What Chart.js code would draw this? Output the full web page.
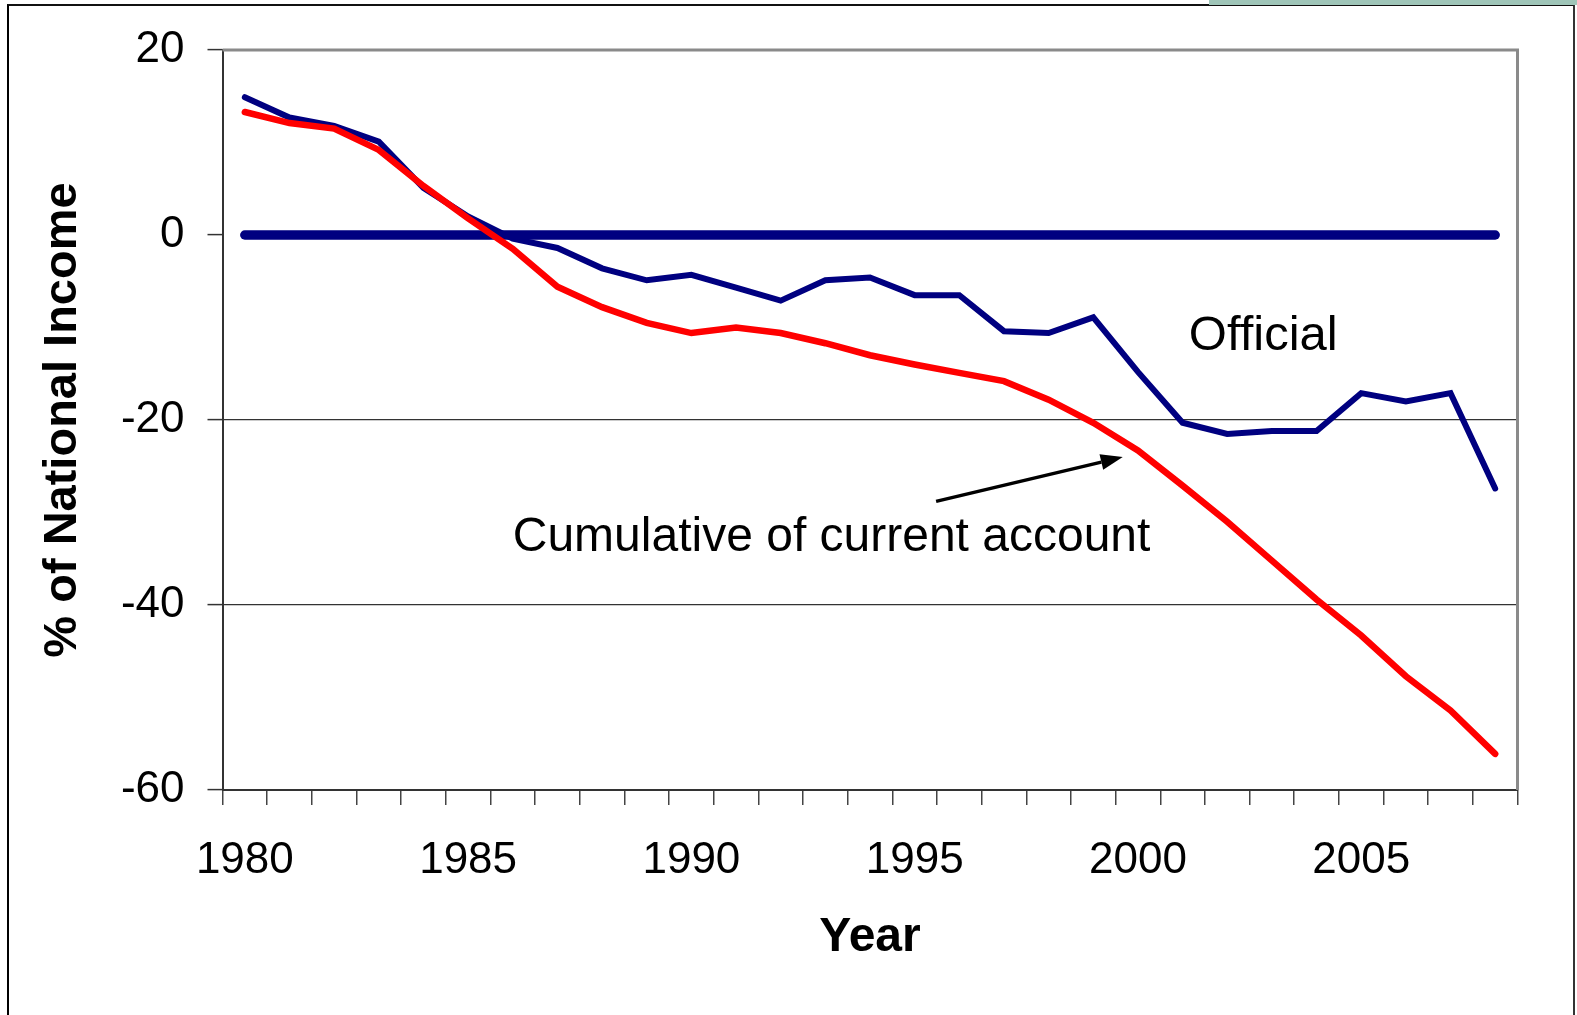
<!DOCTYPE html>
<html>
<head>
<meta charset="utf-8">
<script src="https://cdn.jsdelivr.net/npm/chart.js@4.4.1/dist/chart.umd.min.js"></script>
<style>
  html, body { margin: 0; padding: 0; background: #ffffff; }
  #wrap { position: relative; width: 1577px; height: 1015px; overflow: hidden; }
  #frame { position: absolute; left: 7px; top: 4px; width: 1564px; height: 1100px;
           border-left: 2px solid #000; border-top: 2px solid #111; border-right: 2px solid #333; }
  #greenbar { position: absolute; left: 1209px; top: 0; width: 368px; height: 5px; background: #9fc5b8; }
  canvas { position: absolute; left: 0; top: 0; }
</style>
</head>
<body>
<div id="wrap">
  <div id="frame"></div>
  <div id="greenbar"></div>
  <canvas id="c" width="1577" height="1015"></canvas>
</div>
<script>
// ---- Data ----
const years = ['1980','1981','1982','1983','1984','1985','1986','1987','1988','1989',
               '1990','1991','1992','1993','1994','1995','1996','1997','1998','1999',
               '2000','2001','2002','2003','2004','2005','2006','2007','2008'];
const official = [14.9, 12.7, 11.8, 10.1, 5.1, 2.0, -0.4, -1.4, -3.6, -4.9,
                  -4.3, -5.7, -7.1, -4.9, -4.6, -6.5, -6.5, -10.4, -10.6, -8.9,
                  -14.8, -20.3, -21.5, -21.2, -21.2, -17.1, -18.0, -17.1, -27.4];
const cumulative = [13.3, 12.1, 11.5, 9.2, 5.3, 1.8, -1.5, -5.6, -7.8, -9.5,
                    -10.6, -10.0, -10.6, -11.7, -13.0, -14.0, -14.9, -15.8, -17.8, -20.3,
                    -23.3, -27.1, -31.0, -35.2, -39.4, -43.3, -47.7, -51.4, -56.1];
const zeroLine = [0,0,0,0,0,0,0,0,0,0, 0,0,0,0,0,0,0,0,0,0, 0,0,0,0,0,0,0,0,0];
const xTickLabels = ['1980','1985','1990','1995','2000','2005'];
const yTicks = [20, 0, -20, -40, -60];

// annotation positions in data units (category index, value)
const officialLabel = { text: 'Official', x: 21.14, y: -12.4 };
const cumulativeLabel = { text: 'Cumulative of current account', x: 6.0, y: -34.2 };
const arrowFrom = { x: 15.48, y: -28.8 };
const arrowTo = { x: 19.66, y: -24.0 };

const FONT = "'Liberation Sans', Arial, Helvetica, sans-serif";

const framePlugin = {
  id: 'framePlugin',
  beforeDatasetsDraw(chart) {
    const { ctx, chartArea: a } = chart;
    ctx.save();
    ctx.strokeStyle = '#8a8a8a';
    ctx.lineWidth = 3;
    ctx.beginPath();
    ctx.moveTo(a.left, a.top);
    ctx.lineTo(a.right, a.top);
    ctx.lineTo(a.right, a.bottom);
    ctx.stroke();
    ctx.restore();
  },
  afterDatasetsDraw(chart) {
    const { ctx, scales: { x, y } } = chart;
    ctx.save();
    ctx.fillStyle = '#000';
    ctx.textBaseline = 'alphabetic';
    ctx.textAlign = 'left';
    ctx.font = '49px ' + FONT;
    ctx.fillText(officialLabel.text, x.getPixelForValue(officialLabel.x), y.getPixelForValue(officialLabel.y));
    ctx.font = '48px ' + FONT;
    ctx.fillText(cumulativeLabel.text, x.getPixelForValue(cumulativeLabel.x), y.getPixelForValue(cumulativeLabel.y));
    // arrow
    const x0 = x.getPixelForValue(arrowFrom.x), y0 = y.getPixelForValue(arrowFrom.y);
    const x1 = x.getPixelForValue(arrowTo.x), y1 = y.getPixelForValue(arrowTo.y);
    const ang = Math.atan2(y1 - y0, x1 - x0);
    const headLen = 22, headHalf = 8;
    const bx = x1 - headLen * Math.cos(ang), by = y1 - headLen * Math.sin(ang);
    ctx.strokeStyle = '#000';
    ctx.lineWidth = 3.5;
    ctx.beginPath();
    ctx.moveTo(x0, y0);
    ctx.lineTo(bx, by);
    ctx.stroke();
    ctx.beginPath();
    ctx.moveTo(x1, y1);
    ctx.lineTo(bx + headHalf * Math.sin(ang), by - headHalf * Math.cos(ang));
    ctx.lineTo(bx - headHalf * Math.sin(ang), by + headHalf * Math.cos(ang));
    ctx.closePath();
    ctx.fill();
    ctx.restore();
  }
};

new Chart(document.getElementById('c'), {
  type: 'line',
  data: {
    labels: years,
    datasets: [
      { label: 'Cumulative of current account', data: cumulative, borderColor: '#ff0000',
        borderWidth: 6.5, pointRadius: 0, tension: 0, fill: false, borderCapStyle: 'round' },
      { label: 'Official', data: official, borderColor: '#000080',
        borderWidth: 6, pointRadius: 0, tension: 0, fill: false, borderCapStyle: 'round' },
      { label: 'Zero', data: zeroLine, borderColor: '#000080',
        borderWidth: 9.5, pointRadius: 0, tension: 0, fill: false, borderCapStyle: 'round' }
    ]
  },
  plugins: [framePlugin],
  options: {
    responsive: false,
    devicePixelRatio: 1,
    animation: false,
    layout: { padding: { left: 0, right: 59.5, top: 50, bottom: 0 } },
    plugins: { legend: { display: false }, tooltip: { enabled: false } },
    scales: {
      x: {
        type: 'category',
        offset: true,
        afterFit(scale) { scale.height = 225; },
        grid: { offset: true, drawOnChartArea: false, drawTicks: true, tickLength: 15,
                color: '#444', lineWidth: 1.5 },
        border: { display: true, color: '#333', width: 2 },
        ticks: {
          autoSkip: false, maxRotation: 0, minRotation: 0, padding: 29, color: '#000',
          font: { family: FONT, size: 44 },
          callback(value) { const l = years[value]; return xTickLabels.includes(l) ? l : ''; }
        },
        title: { display: true, text: 'Year', color: '#000',
                 font: { family: FONT, size: 48, weight: 'bold' },
                 padding: { top: 0, bottom: 48 } }
      },
      y: {
        min: -60, max: 20,
        afterFit(scale) { scale.width = 222.5; },
        afterBuildTicks(scale) { scale.ticks = yTicks.map(v => ({ value: v })); },
        grid: {
          drawTicks: true, tickLength: 15, tickColor: '#333', tickWidth: 1.5,
          color(ctx) { const v = ctx.tick && ctx.tick.value; return (v === -20 || v === -40) ? '#333' : 'rgba(0,0,0,0)'; },
          lineWidth: 1.2
        },
        border: { display: true, color: '#333', width: 2 },
        ticks: { padding: 23, color: '#000', font: { family: FONT, size: 44 },
                 callback(value) { return String(value); } },
        title: { display: true, text: '% of National Income', color: '#000',
                 font: { family: FONT, size: 47, weight: 'bold' },
                 padding: { top: 35, bottom: 0 } }
      }
    }
  }
});
</script>
</body>
</html>
